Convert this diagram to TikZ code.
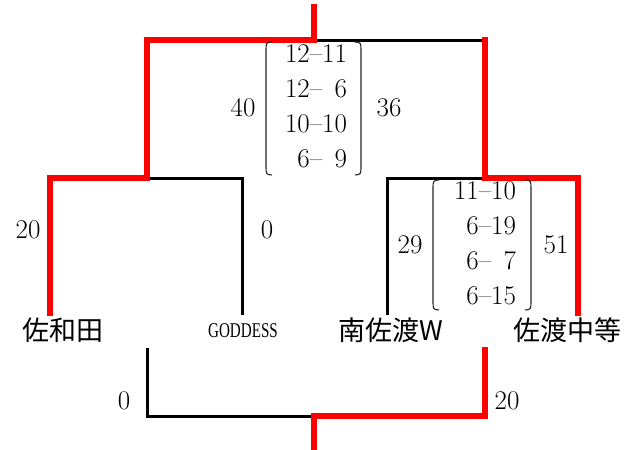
\documentclass[tikz,border=0pt]{standalone}
\usepackage{fontspec}
\newfontfamily\cjk{Noto Sans CJK JP}
\newfontfamily\narrowfont{Liberation Serif}
\begin{document}
\begin{tikzpicture}[x=1pt,y=-1pt,
  win/.style={draw=red,line width=6pt,line join=miter,line cap=rect},
  lose/.style={draw=black,line width=3pt,line join=miter},
  paren/.style={draw=black!85,line width=1.1pt},
  score/.style={font=\fontsize{27}{27}\selectfont,inner sep=0pt},
  team/.style={font=\cjk\fontsize{27}{27}\selectfont,inner sep=0pt},
  games/.style={font=\fontsize{27}{35}\selectfont,inner sep=0pt}]
\useasboundingbox (0,0) rectangle (633,450);
% coordinates
\coordinate (top) at (314,7);
\coordinate (tj) at (314,40);
\coordinate (L1) at (147,40);
\coordinate (R1) at (485,40);
\coordinate (L2) at (147,178);
\coordinate (LL) at (50,178);
\coordinate (LLb) at (50,313);
\coordinate (LR) at (242,178);
\coordinate (LRb) at (242,315);
\coordinate (R2) at (485,178);
\coordinate (RL) at (387,178);
\coordinate (RLb) at (387,315);
\coordinate (RR) at (578,178);
\coordinate (RRb) at (578,313);
\coordinate (B1t) at (147,348);
\coordinate (B1) at (147,416);
\coordinate (bj) at (314,416);
\coordinate (B2) at (485,416);
\coordinate (B2t) at (485,350);
\coordinate (bb) at (314,450);
% black (losing) lines
\draw[lose] (tj) -- (R1);
\draw[lose] (L2) -- (LR) -- (LRb);
\draw[lose] (R2) -- (RL) -- (RLb);
\draw[lose] (B1t) -- (B1) -- (bj);
% red (winning) lines
\draw[win] (top) -- (tj) -- (L1) -- (L2) -- (LL) -- (LLb);
\draw[win] (R1) -- (R2) -- (RR) -- (RRb);
\draw[win] (bj) -- (B2) -- (B2t);
\draw[win,line cap=butt] (bj) -- (bb);
% scores
\node[score] (s1) at (28,230) {20};
\node[score] (s2) at (267,230) {0};
\node[score] (s3) at (243,108) {40};
\node[score] (s4) at (389,108) {36};
\node[score] (s5) at (410,245) {29};
\node[score] (s6) at (556,245) {51};
\node[score] (s7) at (124,401) {0};
\node[score] (s8) at (507,401) {20};
% game matrices
\node[games] (g1) at (316,108) {\begin{tabular}{@{}r@{--}r@{}}12&11\\12&6\\10&10\\6&9\end{tabular}};
\node[games] (g2) at (485,245) {\begin{tabular}{@{}r@{--}r@{}}11&10\\6&19\\6&7\\6&15\end{tabular}};
% parentheses
\draw[paren] (272,42) .. controls (266,42) and (266,44) .. (266,50) -- (266,167) .. controls (266,173) and (266,175) .. (272,175);
\draw[paren] (355,42) .. controls (361,42) and (361,44) .. (361,50) -- (361,167) .. controls (361,173) and (361,175) .. (355,175);
\draw[paren] (439,180) .. controls (433,180) and (433,182) .. (433,188) -- (433,302) .. controls (433,308) and (433,310) .. (439,310);
\draw[paren] (525,180) .. controls (531,180) and (531,182) .. (531,188) -- (531,302) .. controls (531,308) and (531,310) .. (525,310);
% team names
\node[team] (t1) at (63,330) {佐和田};
\node[inner sep=0pt] (t2) at (243,331) {\scalebox{0.72}[1]{\narrowfont\fontsize{21}{21}\selectfont GODDESS}};
\node[team] (t3) at (391,330) {南佐渡W};
\node[team] (t4) at (567,330) {佐渡中等};
\end{tikzpicture}
\end{document}
